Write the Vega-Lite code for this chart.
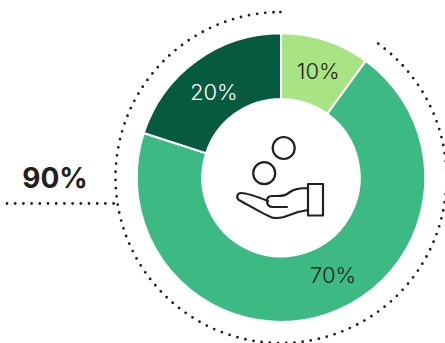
{
  "$schema": "https://vega.github.io/schema/vega-lite/v6.json",
  "width": 445,
  "height": 343,
  "padding": 0,
  "autosize": {"type": "none"},
  "background": "white",
  "view": {"stroke": null},
  "config": {"axis": {"disable": true}, "legend": {"disable": true}},
  "datasets": {
    "shares": [
      {"order": 1, "label": "10%", "pct": 10},
      {"order": 2, "label": "70%", "pct": 70},
      {"order": 3, "label": "20%", "pct": 20}
    ],
    "headline": [{"label": "90%", "from": 10, "to": 100}]
  },
  "encoding": {
    "x": {"type": "quantitative", "scale": {"domain": [0, 445]}, "axis": null},
    "y": {"type": "quantitative", "scale": {"domain": [343, 0]}, "axis": null}
  },
  "layer": [
    {
      "data": {"name": "headline"},
      "mark": {"type": "arc", "innerRadius": 165.5, "outerRadius": 165.5, "fill": null, "stroke": "#231f20", "strokeWidth": 2.8, "strokeCap": "round",
        "strokeDash": [
          0,8.21,0,8.21,0,8.21,0,8.21,0,8.21,0,8.21,0,8.21,0,8.21,0,8.21,0,8.21,
          0,8.21,0,8.21,0,8.21,0,8.21,0,8.21,0,8.21,0,8.21,0,8.21,0,8.21,0,8.21,
          0,8.21,0,8.21,0,8.21,0,8.21,0,8.21,0,8.21,0,8.21,0,8.21,0,8.21,0,8.21,
          0,8.21,0,8.21,0,8.21,0,8.21,0,8.21,0,8.21,0,8.21,0,8.21,0,8.21,0,8.21,
          0,8.21,0,8.21,0,8.21,0,8.21,0,8.21,0,8.21,0,8.21,0,8.21,0,8.21,0,8.21,
          0,8.21,0,8.21,0,8.21,0,8.21,0,8.21,0,8.21,0,8.21,0,8.21,0,8.21,0,8.21,
          0,8.21,0,8.21,0,8.21,0,8.21,0,8.21,0,8.21,0,8.21,0,8.21,0,8.21,0,8.21,
          0,8.21,0,8.21,0,8.21,0,8.21,0,8.21,0,8.21,0,8.21,0,8.21,0,8.21,0,8.21,
          0,8.21,0,8.21,0,8.21,0,8.21,0,8.21,0,8.21,0,8.21,0,8.21,0,8.21,0,8.21,
          0,8.21,0,8.21,0,8.21,0,8.21,0,8.21,0,8.21,0,8.21,0,8.21,0,8.21,0,8.21,
          0,8.21,0,8.21,0,8.21,0,8.21,0,8.21,0,8.21,0,8.21,0,8.21,0,8.21,0,8.21,
          0,8.21,0,8.21,0,8.21,0,8.21,
          0,2000]},
      "encoding": {
        "x": {"datum": 281},
        "y": {"datum": 177.6},
        "theta": {"field": "from", "type": "quantitative", "scale": {"domain": [0, 100]}},
        "theta2": {"field": "to"}
      }
    },
    {
      "data": {"name": "shares"},
      "transform": [{"stack": "pct", "sort": [{"field": "order"}], "as": ["from", "to"]}],
      "mark": {"type": "arc", "innerRadius": 78.7, "outerRadius": 144.3, "stroke": "white", "strokeWidth": 2},
      "encoding": {
        "x": {"datum": 281},
        "y": {"datum": 177.6},
        "theta": {"field": "from", "type": "quantitative", "scale": {"domain": [0, 100]}},
        "theta2": {"field": "to"},
        "color": {"field": "label", "type": "nominal", "legend": null, "scale": {"domain": ["10%", "70%", "20%"], "range": ["#a8e483", "#3dba84", "#055a40"]}}
      }
    },
    {
      "data": {"name": "shares"},
      "transform": [
        {"stack": "pct", "sort": [{"field": "order"}], "as": ["from", "to"]},
        {"calculate": "(datum.from + datum.to) / 2", "as": "mid"},
        {"filter": "datum.pct == 10"}
      ],
      "mark": {"type": "text", "radius": 111, "dx": 3, "dy": 0, "font": "Inter", "fontSize": 22, "fontWeight": 300, "align": "center", "baseline": "middle", "color": "#231f20"},
      "encoding": {
        "x": {"datum": 281},
        "y": {"datum": 177.6},
        "theta": {"field": "mid", "type": "quantitative", "scale": {"domain": [0, 100]}},
        "text": {"field": "label"}
      }
    },
    {
      "data": {"name": "shares"},
      "transform": [
        {"stack": "pct", "sort": [{"field": "order"}], "as": ["from", "to"]},
        {"calculate": "(datum.from + datum.to) / 2", "as": "mid"},
        {"filter": "datum.pct == 20"}
      ],
      "mark": {"type": "text", "radius": 111, "dx": -2, "dy": 5, "font": "Inter", "fontSize": 22, "fontWeight": 300, "align": "center", "baseline": "middle", "color": "white"},
      "encoding": {
        "x": {"datum": 281},
        "y": {"datum": 177.6},
        "theta": {"field": "mid", "type": "quantitative", "scale": {"domain": [0, 100]}},
        "text": {"field": "label"}
      }
    },
    {
      "data": {"name": "shares"},
      "transform": [
        {"stack": "pct", "sort": [{"field": "order"}], "as": ["from", "to"]},
        {"calculate": "(datum.from + datum.to) / 2", "as": "mid"},
        {"filter": "datum.pct == 70"}
      ],
      "mark": {"type": "text", "radius": 110, "dx": 18, "dy": -6, "font": "Inter", "fontSize": 22, "fontWeight": 300, "align": "center", "baseline": "middle", "color": "#231f20"},
      "encoding": {
        "x": {"datum": 281},
        "y": {"datum": 177.6},
        "theta": {"field": "mid", "type": "quantitative", "scale": {"domain": [0, 100]}},
        "text": {"field": "label"}
      }
    },
    {
      "data": {"name": "headline"},
      "mark": {"type": "text", "font": "Inter", "fontSize": 28, "fontWeight": 700, "align": "center", "baseline": "middle", "color": "#231f20"},
      "encoding": {
        "x": {"datum": 55},
        "y": {"datum": 179.5},
        "text": {"field": "label"}
      }
    },
    {
      "data": {"values": [{}]},
      "mark": {"type": "rule", "stroke": "#231f20", "strokeWidth": 2.8, "strokeCap": "round", "strokeDash": [0, 8.2]},
      "encoding": {
        "x": {"datum": 7},
        "x2": {"datum": 118},
        "y": {"datum": 203.5}
      }
    },
    {
      "data": {"values": [{}]},
      "mark": {"type": "point", "shape": "circle", "size": 484, "filled": false, "opacity": 1, "stroke": "#231f20", "strokeWidth": 2.2},
      "encoding": {"x": {"datum": 283.7}, "y": {"datum": 148}}
    },
    {
      "data": {"values": [{}]},
      "mark": {"type": "point", "shape": "circle", "size": 484, "filled": false, "opacity": 1, "stroke": "#231f20", "strokeWidth": 2.2},
      "encoding": {"x": {"datum": 264.2}, "y": {"datum": 173.2}}
    },
    {
      "data": {"values": [{}]},
      "mark": {
        "type": "point",
        "size": 4,
        "filled": false,
        "opacity": 1,
        "stroke": "#231f20",
        "strokeWidth": 2.2,
        "strokeJoin": "round",
        "strokeCap": "round",
        "shape": "M28,-12 C20,-12 14,-11 10,-8 C6,-5 4,-4 -2,-4 L-8,-4 C-12,-4 -13,-2 -13,1 C-13,5 -11,7 -7,7 L7,7 M28,10 L18,12 L4,17 C0,18 -4,18.5 -8,17.5 C-15,15 -30,6 -41,0 C-44,-2 -43,-7 -39,-7 C-33,-7 -22,-3 -12,1 M28,-16 H43 V15.5 H28 Z"
      },
      "encoding": {"x": {"datum": 280}, "y": {"datum": 200}}
    }
  ]
}
